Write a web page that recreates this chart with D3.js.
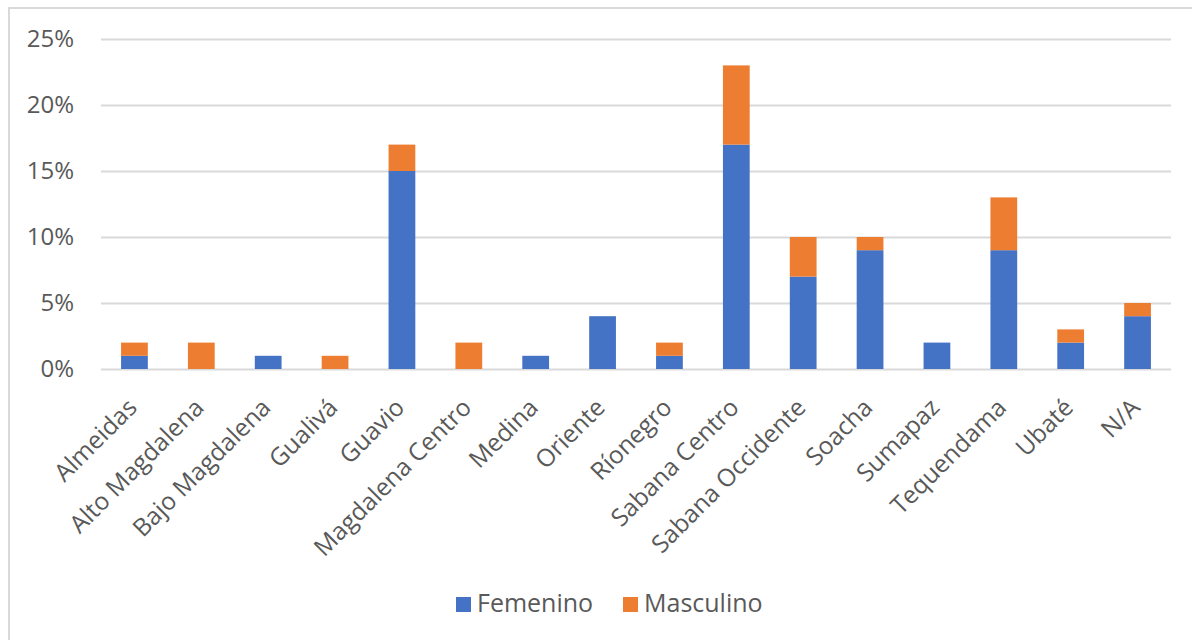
<!DOCTYPE html>
<html>
<head>
<meta charset="utf-8">
<script src="https://cdn.jsdelivr.net/npm/d3@7"></script>
<style>
body{margin:0;background:white;}
text{font-family:"Open Sans",sans-serif;fill:#595959;}
</style>
</head>
<body>
<div id="graphs"></div>
<script>
var regiones = ["Almeidas","Alto Magdalena","Bajo Magdalena","Gualivá","Guavio","Magdalena Centro","Medina","Oriente","Ríonegro","Sabana Centro","Sabana Occidente","Soacha","Sumapaz","Tequendama","Ubaté","N/A"]
var femenino = [1,0,1,0,15,0,1,4,1,17,7,9,2,9,2,4]
var masculino = [1,2,0,1,2,2,0,0,1,6,3,1,0,4,1,1]
var yTicks = [0,5,10,15,20,25]
var series = ["Femenino","Masculino"]
var colores = ["#4472C4","#ED7D31"]

var drawChart = function(){
    var sheet = {w:1192, h:640, left:101, right:1171, top:39, bottom:369}

    var svg = d3.select("#graphs")
        .append("svg")
        .attr("width",sheet.w)
        .attr("height",sheet.h)

    //outer frame
    svg.append("rect")
        .attr("x",9)
        .attr("y",8)
        .attr("width",sheet.w+20)
        .attr("height",sheet.h+20)
        .attr("fill","white")
        .attr("stroke","#d9d9d9")
        .attr("stroke-width",2)

    var x = d3.scaleBand()
        .domain(regiones)
        .range([sheet.left,sheet.right])
        .paddingInner(0.6)
        .paddingOuter(0.3)

    var y = d3.scaleLinear()
        .domain([0,25])
        .range([sheet.bottom,sheet.top])

    //gridlines + y labels
    var yAxis = svg.append("g")
        .attr("transform","translate("+sheet.left+",0)")
        .call(d3.axisLeft(y)
            .tickValues(yTicks)
            .tickSize(-(sheet.right-sheet.left))
            .tickPadding(27)
            .tickFormat(function(d){return d+"%"}))
    yAxis.select(".domain").remove()
    yAxis.selectAll("line").attr("stroke","#d9d9d9").attr("stroke-width",2)
    yAxis.selectAll("text")
        .attr("font-size",24)
        .attr("font-family","Open Sans")
        .attr("fill","#595959")

    //stacked bars
    var rows = regiones.map(function(r,i){
        return {region:r, Femenino:femenino[i], Masculino:masculino[i]}
    })
    var stack = d3.stack().keys(series)(rows)

    svg.selectAll(".serie")
        .data(stack)
        .enter()
        .append("g")
        .attr("fill",function(d,i){return colores[i]})
        .selectAll("rect")
        .data(function(d){return d})
        .enter()
        .append("rect")
        .attr("x",function(d){return x(d.data.region)})
        .attr("width",x.bandwidth())
        .attr("y",function(d){return y(d[1])})
        .attr("height",function(d){return y(d[0])-y(d[1])})

    //x labels
    var xAxis = svg.append("g")
        .attr("transform","translate(0,"+sheet.bottom+")")
        .call(d3.axisBottom(x).tickSize(0).tickPadding(0))
    xAxis.select(".domain").remove()
    xAxis.selectAll("text")
        .attr("font-size",24.5)
        .attr("font-family","Open Sans")
        .attr("fill","#595959")
        .attr("text-anchor","end")
        .attr("dy",0)
        .attr("transform","translate(4,40) rotate(-45)")

    //legend
    var legend = svg.append("g")
    var lx = [456,623]
    series.forEach(function(s,i){
        legend.append("rect")
            .attr("x",lx[i])
            .attr("y",597)
            .attr("width",15)
            .attr("height",15)
            .attr("fill",colores[i])
        legend.append("text")
            .attr("x",lx[i]+21)
            .attr("y",612)
            .attr("font-size",25)
            .text(s)
    })
}

drawChart()
</script>
</body>
</html>
